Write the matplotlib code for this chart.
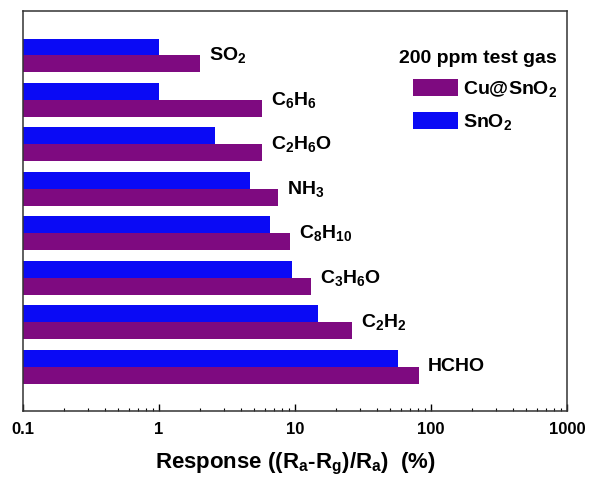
import numpy as np
import matplotlib
matplotlib.use("Agg")
import matplotlib.pyplot as plt

plt.rcParams['font.family'] = ['Liberation Sans', 'DejaVu Sans']
plt.rcParams['font.weight'] = 'bold'
plt.rcParams['mathtext.fontset'] = 'custom'
plt.rcParams['mathtext.rm'] = 'Liberation Sans:bold'
plt.rcParams['mathtext.it'] = 'Liberation Sans:bold'
plt.rcParams['mathtext.bf'] = 'Liberation Sans:bold'
plt.rcParams['mathtext.default'] = 'rm'

# datos
gases = ['SO$_2$', 'C$_6$H$_6$', 'C$_2$H$_6$O', 'NH$_3$',
         'C$_8$H$_{10}$', 'C$_3$H$_6$O', 'C$_2$H$_2$', 'HCHO']
sno2 = [1.0, 1.0, 2.6, 4.65, 6.5, 9.5, 14.8, 57]
cu_sno2 = [2.0, 5.7, 5.7, 7.5, 9.2, 13, 26, 81]

color_cu = '#7e0a80'
color_sn = '#0a0af5'

fig = plt.figure(figsize=(5.89, 4.78), dpi=100)
ax = fig.add_axes([0.039, 0.140, 0.924, 0.837])

y = np.arange(len(gases))
h = 0.38
ax.barh(y + h / 2, cu_sno2, height=h, left=0, color=color_cu, label='Cu@SnO$_2$')
ax.barh(y - h / 2, sno2, height=h, left=0, color=color_sn, label='SnO$_2$')

# etiquetas de cada gas
for i, g in enumerate(gases):
    ax.annotate(g, (cu_sno2[i], y[i]), xytext=(6.5, 0), textcoords='offset points',
                ha='left', va='center', fontsize=14, fontweight='bold')

ax.set_xscale('log')
ax.set_xlim(0.1, 1000)
ax.set_ylim(8, -1)
ax.set_yticks([])
ax.set_xticks([0.1, 1, 10, 100, 1000])
ax.set_xticklabels(['0.1', '1', '10', '100', '1000'])
ax.tick_params(axis='x', which='major', direction='in', length=5, width=1,
               labelsize=12, pad=8)
ax.tick_params(axis='x', which='minor', direction='in', length=2.5, width=0.8)
for s in ax.spines.values():
    s.set_linewidth(1.1)
    s.set_color('#333333')

ax.set_xlabel('Response ((R$_a$-R$_g$)/R$_a$)  (%)', fontsize=16, fontweight='bold',
              labelpad=10)

leg = ax.legend(loc='upper right', frameon=False, fontsize=14,
                title='200 ppm test gas', title_fontproperties={'weight': 'bold', 'size': 14},
                handlelength=2.3, handleheight=0.95, handletextpad=0.25,
                labelspacing=0.65, borderpad=0.7, alignment='right',
                bbox_to_anchor=(1.024, 0.962))

plt.savefig('out.png', dpi=100)
